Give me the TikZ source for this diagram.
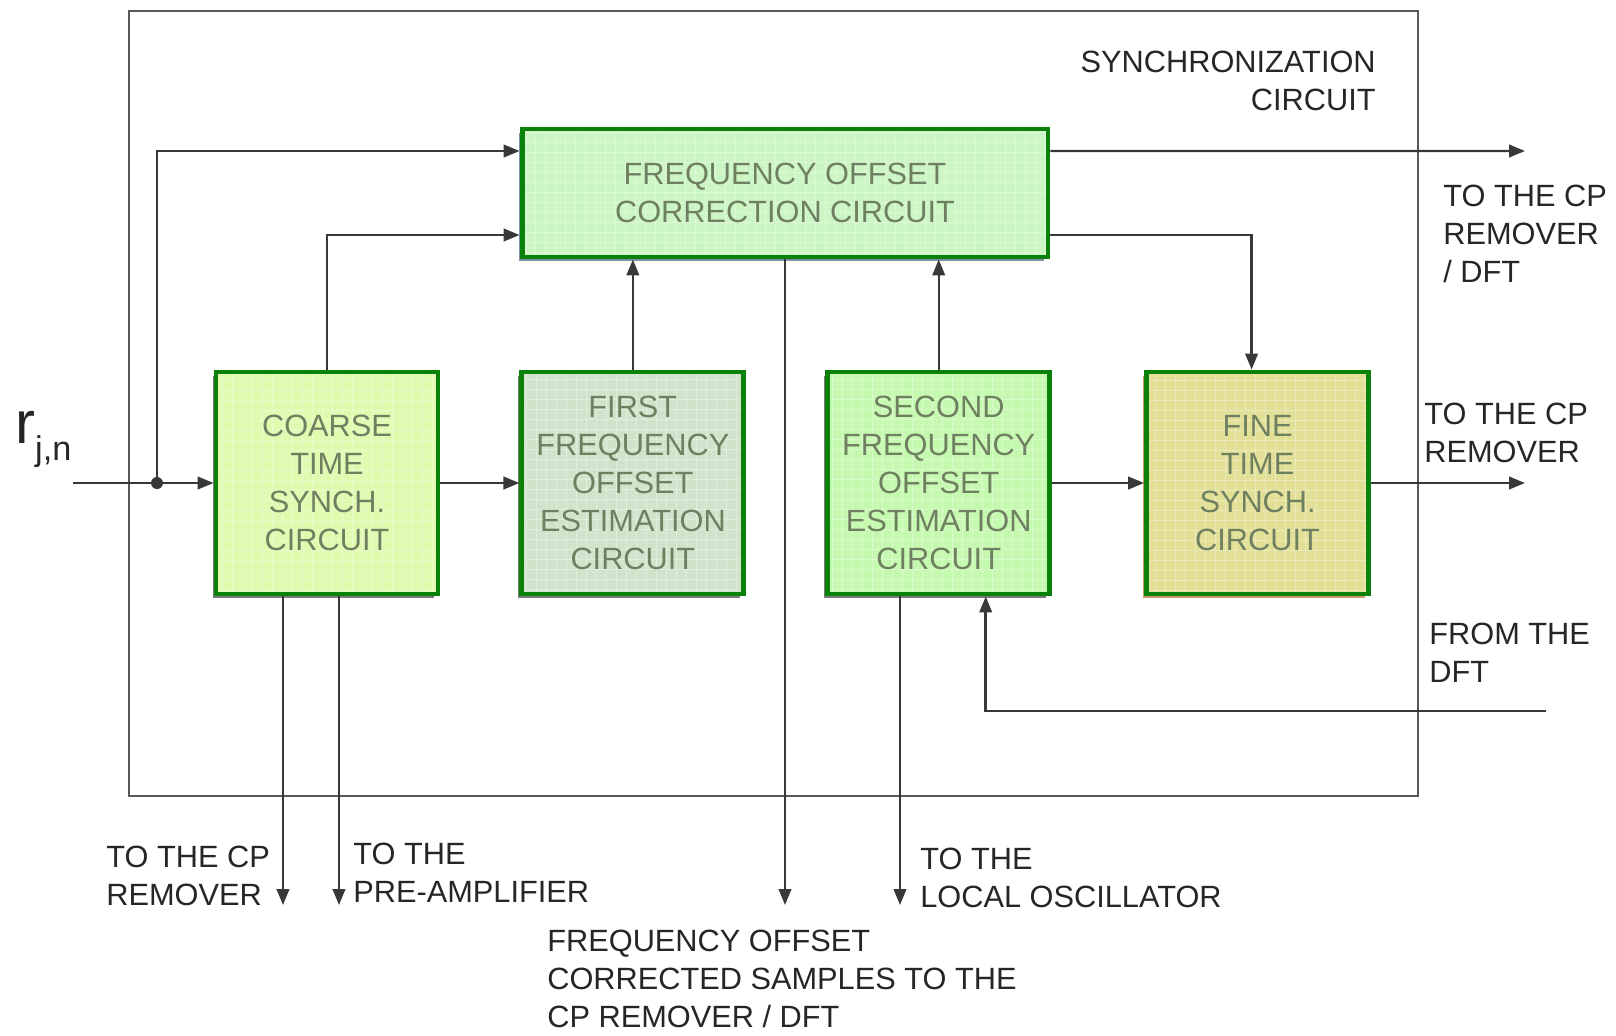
\documentclass[tikz,border=0pt]{standalone}
\usepackage{fontspec}
\setmainfont{Liberation Sans}
\usepackage{tikz}
\usetikzlibrary{positioning, arrows.meta, calc, shadows}
\definecolor{boxgreen}{HTML}{0A820A}
\definecolor{boxtext}{HTML}{6F8060}
\definecolor{coarsefill}{HTML}{E0FAB0}
\definecolor{firstfill}{HTML}{D0E4CC}
\definecolor{secondfill}{HTML}{C6F9B0}
\definecolor{finefill}{HTML}{E2E096}
\definecolor{focfill}{HTML}{CCF5C4}
\definecolor{shadowgray}{HTML}{7A7A7A}
\definecolor{shadowtan}{HTML}{C89A6A}
\definecolor{shadowslate}{HTML}{8090A4}
\definecolor{wire}{HTML}{383838}
\definecolor{labeltext}{HTML}{262626}
\newcommand\diagfont{\fontsize{17.5}{21.6}\selectfont}
\tikzset{
  blk/.style   = {rectangle, draw=boxgreen, line width=2.8pt,
                  minimum width=4.44cm, minimum height=4.44cm,
                  align=center, text=boxtext, font=\diagfont, inner sep=0pt,
                  drop shadow={shadow xshift=-2pt, shadow yshift=-2pt,
                               fill=#1, opacity=1},
                  path picture={\draw[white, opacity=0.35, line width=0.4pt]
                    (path picture bounding box.south west) grid[step=0.2cm]
                    (path picture bounding box.north east);}},
  blk/.default = shadowgray,
  lbl/.style   = {font=\diagfont, text=labeltext, inner sep=0pt, align=left},
  frame/.style = {draw=black!65, line width=1.6pt},
  arr/.style   = {-{Triangle[length=0.32cm,width=0.25cm]}, line width=1.4pt, draw=wire},
  wirel/.style = {line width=1.4pt, draw=wire},
}
\begin{document}
\begin{tikzpicture}[x=0.02cm, y=-0.02cm]
  \useasboundingbox (0,0) rectangle (1616,1035);

  % ----- outer frame -----
  \draw[frame] (129,11) rectangle (1418,796);
  \node[lbl, anchor=base east, align=right] (synclab) at (1376,110)
       {SYNCHRONIZATION\\CIRCUIT};

  % ----- blocks -----
  \node[blk, fill=coarsefill] (coarse) at (327,483)
       {COARSE\\TIME\\SYNCH.\\CIRCUIT};
  \node[blk, fill=firstfill, right=1.58cm of coarse] (first)
       {FIRST\\FREQUENCY\\OFFSET\\ESTIMATION\\CIRCUIT};
  \node[blk, fill=secondfill, right=1.58cm of first] (second)
       {SECOND\\FREQUENCY\\OFFSET\\ESTIMATION\\CIRCUIT};
  \node[blk=shadowtan, fill=finefill, right=1.84cm of second] (fine)
       {FINE\\TIME\\SYNCH.\\CIRCUIT};
  \node[blk=shadowslate, fill=focfill, minimum width=10.52cm, minimum height=2.56cm] (foc)
       at (785,193) {FREQUENCY OFFSET\\CORRECTION CIRCUIT};

  % ----- input -----
  \node[lbl, anchor=base west] (rin) at (15,443)
       {{\fontsize{34}{34}\selectfont r}\raisebox{-10pt}{\fontsize{19.5}{20}\selectfont j,n}};
  \coordinate (in) at (73,483);
  \coordinate (split) at (157,483);
  \draw[wirel] (in) -- (split);
  \draw[arr] (split) -- (coarse.west);
  \fill[wire] (split) circle[radius=0.12cm];
  \draw[arr] (split) |- ([yshift=0.84cm]foc.west);
  \draw[arr] (coarse.north) |- ([yshift=-0.84cm]foc.west);

  % ----- chain -----
  \draw[arr] (coarse) -- (first);
  \draw[arr] (second) -- (fine);
  \draw[arr] (first.north) -- (first.north |- foc.south);
  \draw[arr] (second.north) -- (second.north |- foc.south);
  \draw[arr] ([yshift=-0.84cm]foc.east) -| ([xshift=-0.12cm]fine.north);

  % ----- outputs -----
  \coordinate (outdft) at (1525,151);
  \coordinate (outcp) at (1525,483);
  \draw[arr] ([yshift=0.84cm]foc.east) -- (outdft);
  \draw[arr] (fine) -- (outcp);
  \node[lbl, anchor=base west] (dftlab) at (1443,282) {TO THE CP\\REMOVER\\/ DFT};
  \node[lbl, anchor=base west] (cplab) at (1424,462) {TO THE CP\\REMOVER};

  \coordinate (fromdft) at (1546,711);
  \draw[arr] (fromdft) -| ([xshift=0.94cm]second.south);
  \node[lbl, anchor=base west] (fromlab) at (1429,682) {FROM THE\\DFT};

  \coordinate (cpout) at (283,905);
  \coordinate (ampout) at (339,905);
  \coordinate (sampout) at (785,905);
  \coordinate (loout) at (900,905);
  \draw[arr] (cpout |- coarse.south) -- (cpout);
  \draw[arr] (ampout |- coarse.south) -- (ampout);
  \draw[arr] (foc.south) -- (sampout);
  \draw[arr] (loout |- second.south) -- (loout);

  \node[lbl, anchor=base west] (cpbot) at (106,905) {TO THE CP\\REMOVER};
  \node[lbl, anchor=base west] (amplab) at (353,902) {TO THE\\PRE-AMPLIFIER};
  \node[lbl, anchor=base west] (samplab) at (547,1027)
       {FREQUENCY OFFSET\\CORRECTED SAMPLES TO THE\\CP REMOVER / DFT};
  \node[lbl, anchor=base west] (lolab) at (920,907) {TO THE\\LOCAL OSCILLATOR};

\end{tikzpicture}
\end{document}
